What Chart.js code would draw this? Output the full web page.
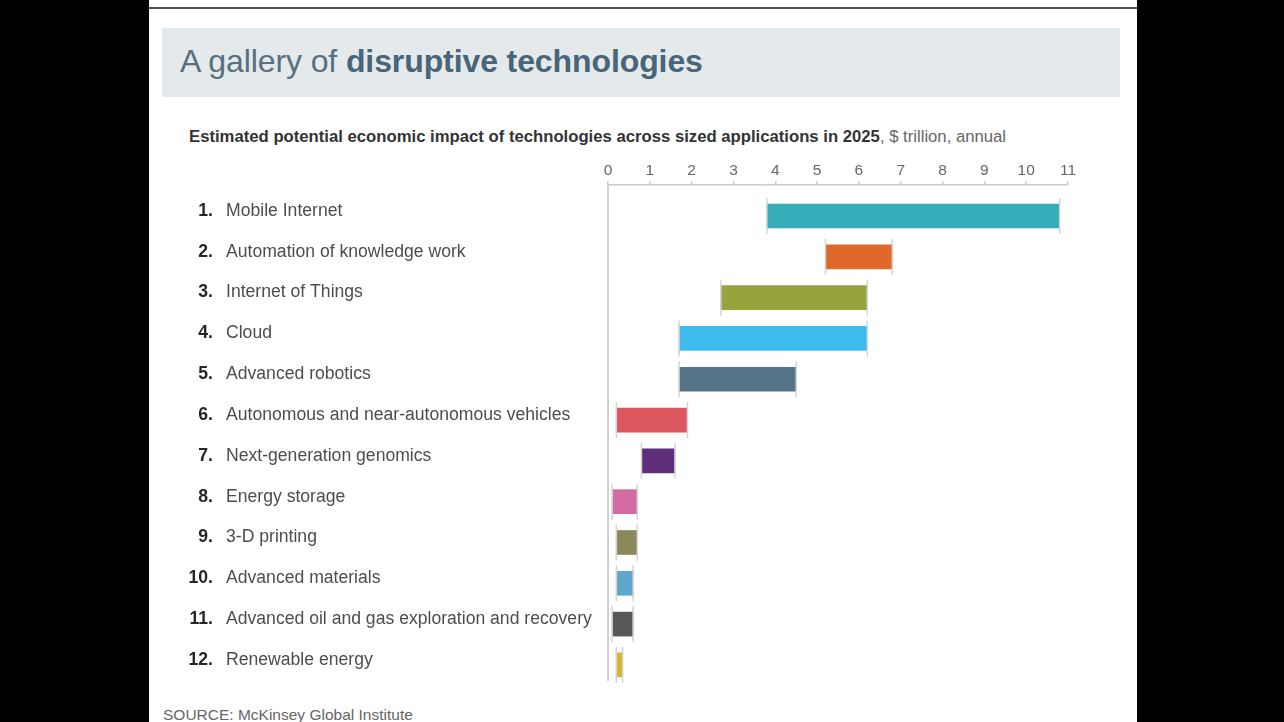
<!DOCTYPE html>
<html>
<head>
<meta charset="utf-8">
<script src="https://cdn.jsdelivr.net/npm/chart.js@4"></script>
<style>
  html, body { margin: 0; padding: 0; }
  body { width: 1284px; height: 722px; background: #000; position: relative; overflow: hidden;
         font-family: "Liberation Sans", Arial, Helvetica, sans-serif; }
  #panel { position: absolute; left: 149px; top: 0; width: 988px; height: 722px; background: #fff; }
  #rule { position: absolute; left: 149px; top: 7px; width: 988px; height: 2px; background: #4d4d4d; }
  #titlebox { position: absolute; left: 162px; top: 28px; width: 958px; height: 69px; background: #e4e9eb; }
  #title { position: absolute; left: 180px; top: 43px; font-size: 32px; color: #56707f; letter-spacing: -0.1px; }
  #title b { color: #48657a; }
  #subtitle { position: absolute; left: 189px; top: 127px; font-size: 16.7px; color: #333; }
  #subtitle span { font-weight: normal; color: #666; }
  #source { position: absolute; left: 163px; top: 706px; font-size: 15.5px; color: #666; }
  #wrap { position: absolute; left: 170px; top: 150px; width: 930px; height: 540px; }
</style>
</head>
<body>
<div id="panel"></div>
<div id="rule"></div>
<div id="titlebox"></div>
<div id="title">A gallery of <b>disruptive technologies</b></div>
<div id="subtitle"><b>Estimated potential economic impact of technologies across sized applications in 2025</b><span>, $ trillion, annual</span></div>
<div id="wrap"><canvas id="myChart" width="930" height="540"></canvas></div>
<div id="source">SOURCE: McKinsey Global Institute</div>

<script>
var technologies = [
    "Mobile Internet",
    "Automation of knowledge work",
    "Internet of Things",
    "Cloud",
    "Advanced robotics",
    "Autonomous and near-autonomous vehicles",
    "Next-generation genomics",
    "Energy storage",
    "3-D printing",
    "Advanced materials",
    "Advanced oil and gas exploration and recovery",
    "Renewable energy"
];
// low and high end of the estimated impact, $ trillion
var impact_low  = [3.8, 5.2, 2.7, 1.7, 1.7, 0.2, 0.8, 0.1, 0.2, 0.2, 0.1, 0.2];
var impact_high = [10.8, 6.8, 6.2, 6.2, 4.5, 1.9, 1.6, 0.7, 0.7, 0.6, 0.6, 0.35];
var bar_colors = ["#34adb8", "#e0682a", "#98a33d", "#3dbbec", "#567487", "#dc5660",
                  "#5e2f78", "#d26ca3", "#8b895c", "#63a6cd", "#585858", "#d9b42e"];
var x_ticks = [0, 1, 2, 3, 4, 5, 6, 7, 8, 9, 10, 11];

var rows = technologies.map(function(name, i) {
    return { y: i, x: [impact_low[i], impact_high[i]] };
});

// light grey end caps on each range bar
var capsPlugin = {
    id: 'caps',
    afterDatasetsDraw: function(chart) {
        var ctx = chart.ctx;
        var meta = chart.getDatasetMeta(0);
        ctx.save();
        ctx.strokeStyle = '#d4d4d4';
        ctx.lineWidth = 1.5;
        meta.data.forEach(function(bar) {
            var p = bar.getProps(['x', 'y', 'base', 'height'], true);
            var top = p.y - p.height / 2 - 6;
            var bottom = p.y + p.height / 2 + 6;
            [p.base, p.x].forEach(function(px) {
                ctx.beginPath();
                ctx.moveTo(px, top);
                ctx.lineTo(px, bottom);
                ctx.stroke();
            });
        });
        ctx.restore();
    }
};

// numbered row labels on the left
var rowLabels = {
    id: 'rowLabels',
    afterDraw: function(chart) {
        var ctx = chart.ctx;
        var yScale = chart.scales.y;
        ctx.save();
        ctx.textBaseline = 'middle';
        technologies.forEach(function(name, i) {
            var y = yScale.getPixelForValue(i) - 5;
            ctx.font = 'bold 17.6px "Liberation Sans", Arial, sans-serif';
            ctx.fillStyle = '#262626';
            ctx.textAlign = 'right';
            ctx.fillText((i + 1) + '.', 43, y);
            ctx.font = '17.6px "Liberation Sans", Arial, sans-serif';
            ctx.fillStyle = '#4d4d4d';
            ctx.textAlign = 'left';
            ctx.fillText(name, 56, y);
        });
        ctx.restore();
    }
};

var ctx = document.getElementById('myChart').getContext('2d');
var myChart = new Chart(ctx, {
    type: 'bar',
    data: {
        datasets: [{
            data: rows,
            backgroundColor: bar_colors,
            borderWidth: 0,
            barThickness: 24
        }]
    },
    options: {
        indexAxis: 'y',
        responsive: false,
        animation: false,
        layout: { padding: { left: 438, right: 32, top: 0, bottom: 10 } },
        plugins: {
            legend: { display: false },
            tooltip: { enabled: false }
        },
        scales: {
            x: {
                type: 'linear',
                position: 'top',
                min: 0,
                max: 11,
                afterBuildTicks: function(scale) {
                    scale.ticks = x_ticks.map(function(v) { return { value: v }; });
                },
                afterFit: function(scale) { scale.height = 35; },
                ticks: {
                    color: '#666',
                    padding: 1,
                    maxRotation: 0,
                    font: { family: '"Liberation Sans", Arial, sans-serif', size: 15.5 }
                },
                grid: {
                    drawOnChartArea: false,
                    drawTicks: true,
                    tickLength: 4,
                    color: '#cccccc',
                    lineWidth: 1.5
                },
                border: { color: '#cccccc', width: 1.5 }
            },
            y: {
                type: 'linear',
                reverse: true,
                offset: false,
                bounds: 'data',
                min: -0.76,
                max: 11.37,
                afterFit: function(scale) { scale.width = 0; },
                ticks: { display: false },
                grid: { display: false, drawTicks: false, offset: false },
                border: { color: '#cfcfcf', width: 2 }
            }
        }
    },
    plugins: [capsPlugin, rowLabels]
});
</script>
</body>
</html>
